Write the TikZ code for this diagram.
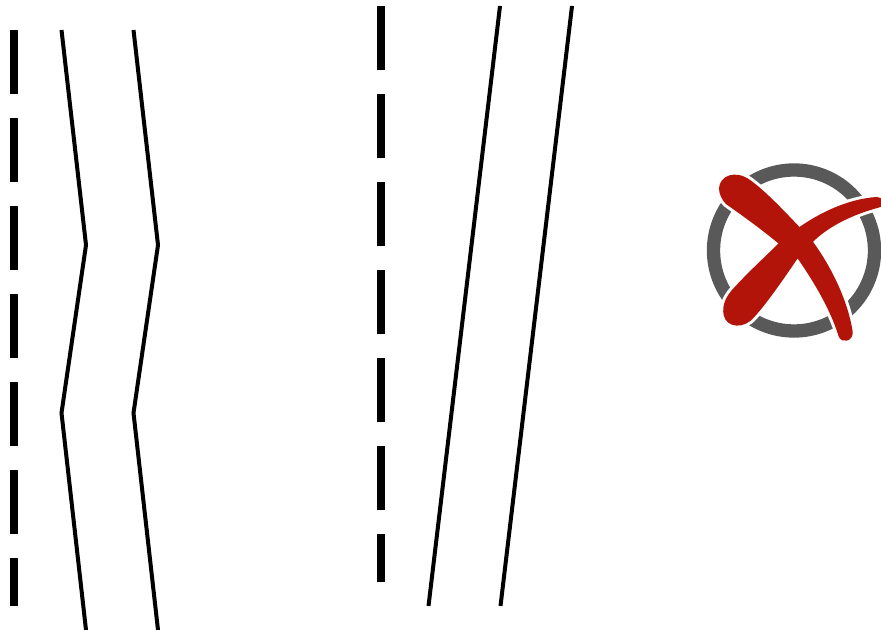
\documentclass[tikz,border=0pt]{standalone}
\usepackage{xcolor}
\definecolor{ringgray}{RGB}{89,89,89}
\definecolor{crossred}{RGB}{178,20,10}
\tikzset{
    dashline/.style={line width=6pt, black, dash pattern=on 48pt off 18pt},
    laneline/.style={line width=3pt, black, line join=miter},
    ring/.style={line width=10pt, ringgray},
    cross/.style={fill=crossred, draw=crossred, line width=1.5pt, line join=round,
        preaction={draw=white, line width=6pt}},
}
\begin{document}
\begin{tikzpicture}[x=0.75pt, y=-0.75pt]
    \useasboundingbox (0,0) rectangle (881,630);
    % left pair
    \draw[dashline] (13.5,30) -- (13.5,606);
    \foreach \x in {0,72} {
        \draw[laneline, xshift=\x*0.75pt] (61.5,30) -- (86,245) -- (61.5,413) -- (86,630);
    }
    % right pair
    \draw[dashline] (380.5,6) -- (380.5,582);
    \foreach \x in {0,72} {
        \draw[laneline, xshift=\x*0.75pt] (500,6) -- (428.5,606);
    }
    % crossed-out mark
    \draw[ring] (794,250.5) circle (80.5);
    \begin{scope}[shift={(690,150)}, x=0.25pt, y=-0.25pt]
        \path[cross] (90,115) .. controls (92,80) and (135,62) .. (178,92)
            .. controls (230,130) and (285,190) .. (328,235)
            .. controls (385,195) and (470,150) .. (560,144)
            .. controls (578,143) and (585,165) .. (565,170)
            .. controls (490,190) and (415,225) .. (365,275)
            .. controls (420,350) and (470,450) .. (485,545)
            .. controls (488,570) and (455,580) .. (448,556)
            .. controls (425,480) and (375,395) .. (323,320)
            .. controls (285,375) and (235,450) .. (190,500)
            .. controls (160,535) and (112,530) .. (104,495)
            .. controls (98,465) and (112,440) .. (130,420)
            .. controls (175,370) and (225,325) .. (270,280)
            .. controls (215,235) and (160,195) .. (110,160)
            .. controls (98,148) and (90,130) .. (90,115) -- cycle;
    \end{scope}
\end{tikzpicture}
\end{document}
